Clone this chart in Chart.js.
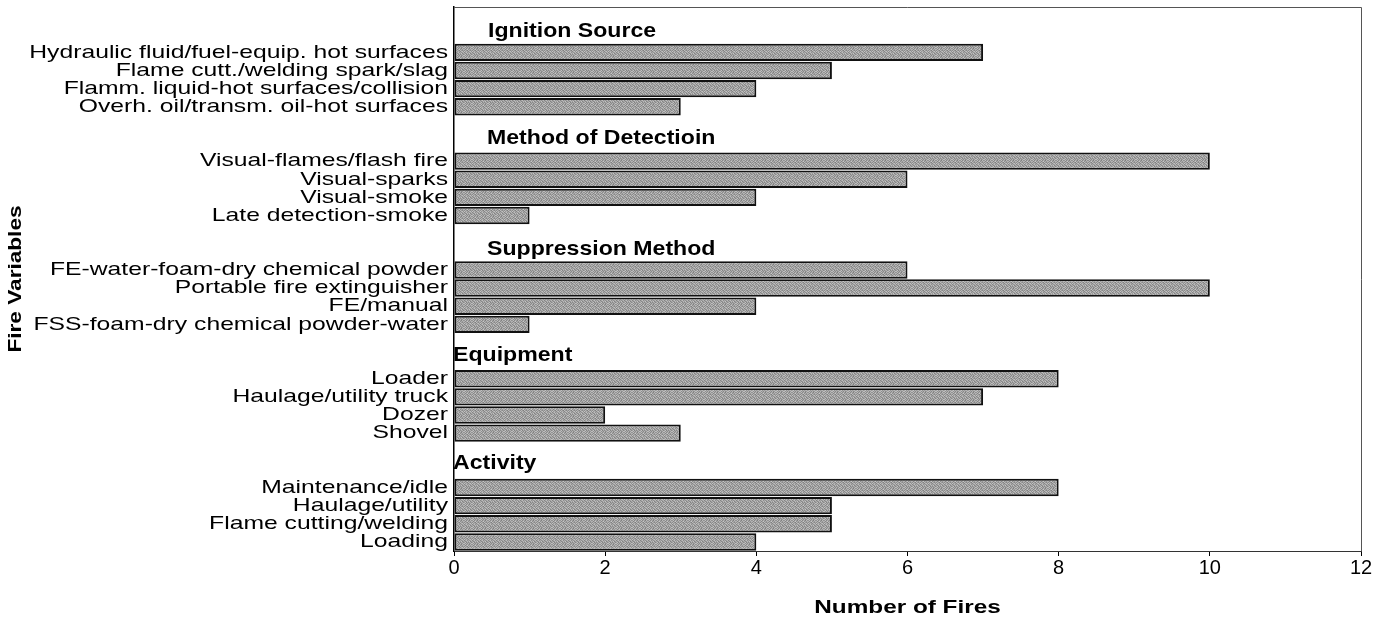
<!DOCTYPE html>
<html>
<head>
<meta charset="utf-8">
<script src="https://cdn.jsdelivr.net/npm/chart.js@4/dist/chart.umd.min.js"></script>
<style>
  html, body { margin: 0; background: #fff; }
  #wrap { width: 1391px; height: 627px; }
</style>
</head>
<body>
<div id="wrap"><canvas id="bar-chart"></canvas></div>
<script>
// group headings, in order from top to bottom
var groups = ['Ignition Source', 'Method of Detectioin', 'Suppression Method', 'Equipment', 'Activity'];

var ignitionLabels = ['Hydraulic fluid/fuel-equip. hot surfaces', 'Flame cutt./welding spark/slag',
    'Flamm. liquid-hot surfaces/collision', 'Overh. oil/transm. oil-hot surfaces'];
var ignitionValues = [7, 5, 4, 3];

var detectionLabels = ['Visual-flames/flash fire', 'Visual-sparks', 'Visual-smoke', 'Late detection-smoke'];
var detectionValues = [10, 6, 4, 1];

var suppressionLabels = ['FE-water-foam-dry chemical powder', 'Portable fire extinguisher',
    'FE/manual', 'FSS-foam-dry chemical powder-water'];
var suppressionValues = [6, 10, 4, 1];

var equipmentLabels = ['Loader', 'Haulage/utility truck', 'Dozer', 'Shovel'];
var equipmentValues = [8, 7, 2, 3];

var activityLabels = ['Maintenance/idle', 'Haulage/utility', 'Flame cutting/welding', 'Loading'];
var activityValues = [8, 5, 5, 4];

var xTicks = [0, 2, 4, 6, 8, 10, 12];
var xTitle = 'Number of Fires';
var yTitle = 'Fire Variables';

// two empty rows before each group, the second one carries the heading
var groupLabels = [ignitionLabels, detectionLabels, suppressionLabels, equipmentLabels, activityLabels];
var groupValues = [ignitionValues, detectionValues, suppressionValues, equipmentValues, activityValues];
var labels = [], values = [], headerRows = [];
for (var g = 0; g < groups.length; g++) {
    labels.push('', '');
    values.push(null, null);
    headerRows.push(labels.length - 1);
    for (var i = 0; i < groupLabels[g].length; i++) {
        labels.push(groupLabels[g][i]);
        values.push(groupValues[g][i]);
    }
}

// heading offsets (px) from the left of the plot and from the row centre
var headerDx = [34, 33, 33, -1, -1];
var headerDy = [-3, -5, -3, -5, -6];

var FONT = '"Liberation Sans", Arial, sans-serif';

// the scanned original has its lettering drawn wide, so text is stretched sideways
function wideText(ctx, text, x, y, sx, align) {
    ctx.save();
    ctx.translate(x, y);
    ctx.scale(sx, 1);
    ctx.textAlign = align;
    ctx.fillText(text, 0, 0);
    ctx.restore();
}

// grey speckled fill like the printed bars (fixed tile)
function barPattern() {
    var shades = [
        [150, 190, 135, 172, 160, 128, 185, 146],
        [176, 132, 168, 198, 140, 170, 150, 180],
        [140, 182, 150, 128, 188, 155, 136, 166],
        [195, 148, 176, 160, 134, 178, 192, 142],
        [132, 166, 190, 142, 170, 146, 160, 184],
        [172, 138, 152, 186, 154, 196, 130, 158],
        [158, 194, 130, 168, 138, 162, 176, 136],
        [186, 144, 174, 136, 182, 140, 152, 190]
    ];
    var c = document.createElement('canvas');
    c.width = 8; c.height = 8;
    var p = c.getContext('2d');
    for (var r = 0; r < 8; r++) {
        for (var k = 0; k < 8; k++) {
            var s = shades[r][k];
            p.fillStyle = 'rgb(' + s + ',' + s + ',' + s + ')';
            p.fillRect(k, r, 1, 1);
        }
    }
    return p.createPattern(c, 'repeat');
}

var textPlugin = {
    id: 'textPlugin',
    afterDatasetsDraw: function (chart) {
        var ctx = chart.ctx, area = chart.chartArea, y = chart.scales.y;
        ctx.save();
        ctx.fillStyle = '#000';
        ctx.textBaseline = 'middle';

        // category labels
        ctx.font = '19px ' + FONT;
        for (var i = 0; i < labels.length; i++) {
            if (labels[i]) wideText(ctx, labels[i], area.left - 6, y.getPixelForValue(i), 1.3, 'right');
        }

        // group headings inside the plot
        ctx.font = 'bold 21px ' + FONT;
        for (var k = 0; k < groups.length; k++) {
            wideText(ctx, groups[k], area.left + headerDx[k], y.getPixelForValue(headerRows[k]) + headerDy[k], 1.1, 'left');
        }

        // axis titles
        ctx.font = 'bold 19px ' + FONT;
        wideText(ctx, xTitle, (area.left + area.right) / 2, 608, 1.28, 'center');
        ctx.save();
        ctx.translate(16, (area.top + area.bottom) / 2);
        ctx.rotate(-Math.PI / 2);
        wideText(ctx, yTitle, 0, 0, 1.19, 'center');
        ctx.restore();

        // frame round the plot area
        ctx.strokeStyle = '#555';
        ctx.lineWidth = 1;
        ctx.beginPath();
        ctx.moveTo(area.left, area.top + 0.5);
        ctx.lineTo(area.right + 0.5, area.top + 0.5);
        ctx.lineTo(area.right + 0.5, area.bottom);
        ctx.stroke();
        ctx.restore();
    }
};

new Chart(document.getElementById('bar-chart'), {
    type: 'bar',
    data: {
        labels: labels,
        datasets: [{
            data: values,
            backgroundColor: barPattern(),
            borderColor: '#111',
            borderWidth: 2,
            borderSkipped: false,
            barPercentage: 0.96,
            categoryPercentage: 1
        }]
    },
    options: {
        indexAxis: 'y',
        responsive: true,
        maintainAspectRatio: false,
        animation: false,
        layout: { autoPadding: false, padding: { top: 7, right: 30, left: 0, bottom: 0 } },
        plugins: {
            legend: { display: false },
            tooltip: { enabled: false }
        },
        scales: {
            x: {
                min: 0,
                max: 12,
                afterBuildTicks: function (axis) {
                    axis.ticks = xTicks.map(function (v) { return { value: v }; });
                },
                afterFit: function (axis) { axis.height = 76; },
                grid: { drawOnChartArea: false, tickLength: 5, color: '#000' },
                border: { color: '#333', width: 1 },
                ticks: {
                    color: '#000',
                    padding: 0,
                    font: { family: FONT, size: 20 }
                }
            },
            y: {
                afterFit: function (axis) { axis.width = 454; },
                grid: { display: false },
                border: { color: '#000', width: 1.5 },
                ticks: { display: false, autoSkip: false }
            }
        }
    },
    plugins: [textPlugin]
});
</script>
</body>
</html>
